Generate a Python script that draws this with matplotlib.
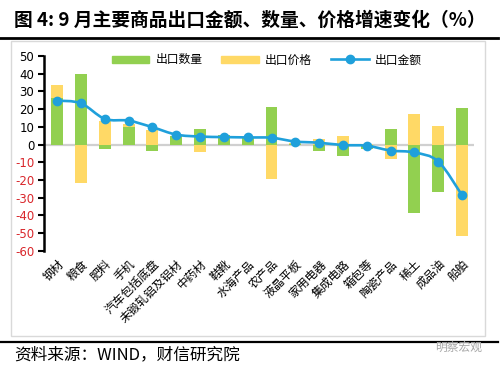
import matplotlib
matplotlib.use("Agg")
import matplotlib.pyplot as plt
import numpy as np
from matplotlib.path import Path
from matplotlib.patches import PathPatch, Rectangle
from matplotlib.lines import Line2D

plt.rcParams['font.family'] = ['Noto Sans CJK SC', 'DejaVu Sans']

# 数据
categories = ['钢材', '粮食', '肥料', '手机', '汽车包括底盘', '未锻轧铝及铝材', '中药材', '鞋靴',
              '水海产品', '农产品', '液晶平板', '家用电器', '集成电路', '箱包等', '陶瓷产品',
              '稀土', '成品油', '船舶']
quantity = [26, 39.7, -2.6, 9.8, -3.7, 4.9, 8.7, 5.5, 3.5, 21.4, 0.5, -3.5, -6.4, -2.5, 8.8, -38.7, -26.7, 20.5]
price = [33.6, -21.8, 13.4, 11.7, 8.3, 1.0, -4.5, 0, 1.0, -19.5, 1.0, 3.0, 4.9, 0.5, -8.3, 17.1, 10.2, -51.9]
amount = [24.8, 23.3, 14.5, 13.5, 9.8, 5.6, 4.5, 4.2, 4.0, 3.8, 1.7, 1.0, -0.3, -0.7, -3.4, -4.5, -9.6, -28.7]
yticks = list(range(-60, 51, 10))

green = '#92D050'
yellow = '#FFD966'
blue = '#1FA0DB'
red = '#D9262B'

fig = plt.figure(figsize=(5, 3.7), dpi=100)
ax = fig.add_axes([0.088, 0.3224, 0.86, 0.5262])

x = np.arange(len(categories))
ax.axhline(0, color='#D0D0D0', lw=1.6, zorder=1)
ax.bar(x, price, width=0.5, color=yellow, zorder=2)
ax.bar(x, quantity, width=0.5, color=green, zorder=3)

# 平滑曲线 (Catmull-Rom -> Bezier)
pts = np.column_stack([x, amount]).astype(float)
verts = [pts[0]]
codes = [Path.MOVETO]
n = len(pts)
for i in range(n - 1):
    p0 = pts[i - 1] if i > 0 else pts[i]
    p1 = pts[i]
    p2 = pts[i + 1]
    p3 = pts[i + 2] if i + 2 < n else pts[i + 1]
    c1 = p1 + (p2 - p0) / 6.0
    c2 = p2 - (p3 - p1) / 6.0
    verts += [c1, c2, p2]
    codes += [Path.CURVE4] * 3
ax.add_patch(PathPatch(Path(verts, codes), fill=False, edgecolor=blue, lw=1.9, zorder=4))
ax.plot(x, amount, ls='none', marker='o', ms=6, color=blue, zorder=5)

ax.set_xlim(-0.55, 17.5)
ax.set_ylim(-60, 50)
ax.set_yticks(yticks)
ax.set_yticklabels([str(v) for v in yticks], fontsize=8.5, family='DejaVu Sans')
for lab, v in zip(ax.get_yticklabels(), yticks):
    lab.set_color(red if v < 0 else 'black')
ax.tick_params(axis='y', direction='out', length=4, width=1.5, color='black', pad=3)
ax.set_xticks(x)
ax.set_xticklabels(categories, rotation=45, ha='right', va='top', rotation_mode='anchor', fontsize=8.5)
ax.tick_params(axis='x', length=0, pad=5)
for s in ['top', 'right', 'bottom']:
    ax.spines[s].set_visible(False)
ax.spines['left'].set_linewidth(1.8)

handles = [Rectangle((0, 0), 1, 1, color=green), Rectangle((0, 0), 1, 1, color=yellow),
           Line2D([], [], color=blue, lw=1.9, marker='o', ms=6)]
fig.legend(handles, ['出口数量', '出口价格', '出口金额'], loc='center', bbox_to_anchor=(0.533, 0.838),
           ncol=3, frameon=False, fontsize=8.5, handlelength=3.2, handleheight=0.6,
           handletextpad=0.5, columnspacing=1.6)

# 标题、边框
fig.text(0.028, 0.946, '图 4: 9 月主要商品出口金额、数量、价格增速变化（%）', fontsize=13.5,
         fontweight='bold', va='center', ha='left')
fig.add_artist(Line2D([0, 0.995], [0.897, 0.897], color='black', lw=2, transform=fig.transFigure))
fig.add_artist(Rectangle((0.022, 0.092), 0.948, 0.797, fill=False, edgecolor='#D9D9D9', lw=1,
                         transform=fig.transFigure))
fig.add_artist(Line2D([0, 0.995], [0.0757, 0.0757], color='black', lw=1.6, transform=fig.transFigure))
fig.text(0.028, 0.04, '资料来源：WIND，财信研究院', fontsize=12, style='italic', va='center', ha='left')
fig.text(0.965, 0.062, '明察宏观', fontsize=8.5, color='#A8A8A8', va='center', ha='right')

fig.savefig('out.png', dpi=100)
